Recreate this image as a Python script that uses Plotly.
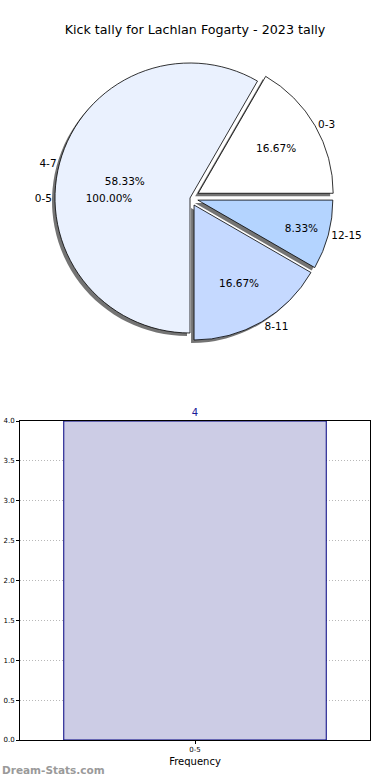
import plotly.graph_objects as go

# ---- data ----
title_text = "Kick tally for Lachlan Fogarty - 2023 tally"
pie_labels = ["0-3", "4-7", "8-11", "12-15"]
pie_values = [2, 7, 2, 1]
pie_colors = ["#ffffff", "#eaf1fe", "#c5d9ff", "#b4d4ff"]
pie_pull = [0.07, 0.0, 0.06, 0.06]

outer_labels = ["0-5"]
outer_values = [1]

bar_categories = ["0-5"]
bar_values = [4]
y_ticks = [0.0, 0.5, 1.0, 1.5, 2.0, 2.5, 3.0, 3.5, 4.0]

W, H = 390, 780
FONT = "DejaVu Sans"


def dom(cx, cy, half):
    return dict(x=[(cx - half) / W, (cx + half) / W],
                y=[(H - cy - half) / H, (H - cy + half) / H])


R = 135
main_dom = dom(190, 198, R * 1.07)
shadow_dom = dom(187, 201, R * 1.07)
outer_dom = dom(190, 198, R)
ROT = 30  # plotly lays the first slice ending at rotation when ccw

fig = go.Figure()

# shadow
fig.add_trace(go.Pie(
    labels=pie_labels, values=pie_values, sort=False,
    direction="counterclockwise", rotation=ROT, pull=pie_pull,
    marker=dict(colors=["rgba(70,70,70,0.75)"] * 4, line=dict(width=0)),
    textinfo="none", hoverinfo="skip", showlegend=False, domain=shadow_dom,
))

# main pie: slices with percent inside
fig.add_trace(go.Pie(
    labels=pie_labels, values=pie_values, sort=False,
    direction="counterclockwise", rotation=ROT, pull=pie_pull,
    marker=dict(colors=pie_colors, line=dict(color="#000000", width=0.8)),
    texttemplate="%{percent:.2%}", textposition="inside",
    insidetextorientation="horizontal",
    textfont=dict(family=FONT, size=10.5, color="#000000"),
    showlegend=False, domain=main_dom,
))

# main pie labels outside (transparent overlay)
fig.add_trace(go.Pie(
    labels=pie_labels, values=pie_values, sort=False,
    direction="counterclockwise", rotation=ROT, pull=pie_pull,
    marker=dict(colors=["rgba(0,0,0,0)"] * 4, line=dict(width=0)),
    texttemplate="%{label}", textposition="outside",
    outsidetextfont=dict(family=FONT, size=10.5, color="#000000"),
    hoverinfo="skip", showlegend=False, domain=main_dom,
))

# 0-5 full circle (hidden under main pie) - percent text
fig.add_trace(go.Pie(
    labels=outer_labels, values=outer_values, sort=False,
    direction="counterclockwise", rotation=90, hole=0.2,
    marker=dict(colors=["rgba(0,0,0,0)"], line=dict(width=0)),
    texttemplate="%{percent:.2%}", textposition="inside",
    insidetextorientation="horizontal",
    textfont=dict(family=FONT, size=10.5, color="#000000"),
    hoverinfo="skip", showlegend=False, domain=outer_dom,
))
# 0-5 label outside
fig.add_trace(go.Pie(
    labels=outer_labels, values=outer_values, sort=False,
    direction="counterclockwise", rotation=90,
    marker=dict(colors=["rgba(0,0,0,0)"], line=dict(width=0)),
    texttemplate="%{label}", textposition="outside",
    outsidetextfont=dict(family=FONT, size=10.5, color="#000000"),
    hoverinfo="skip", showlegend=False, domain=outer_dom,
))

# bar chart
fig.add_trace(go.Bar(
    x=bar_categories, y=bar_values, width=0.75,
    marker=dict(color="#ccccE5", line=dict(color="#000080", width=1)),
    text=[str(v) for v in bar_values], textposition="outside",
    textfont=dict(family=FONT, size=10, color="#1a1a99"),
    cliponaxis=False, showlegend=False, hoverinfo="skip",
))

grid = dict(showgrid=True, gridcolor="#b8b8b8", griddash="1px,2px", gridwidth=1)

fig.update_layout(
    width=W, height=H,
    margin=dict(l=0, r=0, t=0, b=0, autoexpand=False),
    paper_bgcolor="white", plot_bgcolor="white",
    font=dict(family=FONT, color="#000000"),
    title=dict(text=title_text, x=0.5, xanchor="center", xref="paper",
               yref="container", y=1 - 30 / H, yanchor="middle",
               font=dict(family=FONT, size=12.7, color="#000000")),
    xaxis=dict(domain=[20 / W, 370 / W], range=[-0.5, 0.5], automargin=False,
               showline=True, linecolor="#000000", linewidth=1, mirror=True,
               ticks="outside", ticklen=3, tickcolor="#000000",
               tickfont=dict(family=FONT, size=7, color="#000000"),
               title=dict(text="Frequency", standoff=4,
                          font=dict(family=FONT, size=10, color="#000000")),
               fixedrange=True, **grid),
    yaxis=dict(domain=[40 / H, (H - 421) / H], range=[0, 4.0], automargin=False,
               tickvals=y_ticks, ticktext=[f"{v:.1f}" for v in y_ticks],
               showline=True, linecolor="#000000", linewidth=1, mirror=True,
               ticks="outside", ticklen=3, tickcolor="#000000",
               tickfont=dict(family=FONT, size=7, color="#000000"),
               zeroline=False, fixedrange=True, **grid),
    annotations=[dict(text="<b>Dream-Stats.com</b>", xref="paper", yref="paper",
                      x=0, y=10 / H, xanchor="left", yanchor="middle",
                      showarrow=False,
                      font=dict(family=FONT, size=10.5, color="#9a9a9a"))],
)

fig.write_html("out.html", config={"displayModeBar": False},
               post_script="document.body.style.margin='0';document.body.style.overflow='hidden';")
